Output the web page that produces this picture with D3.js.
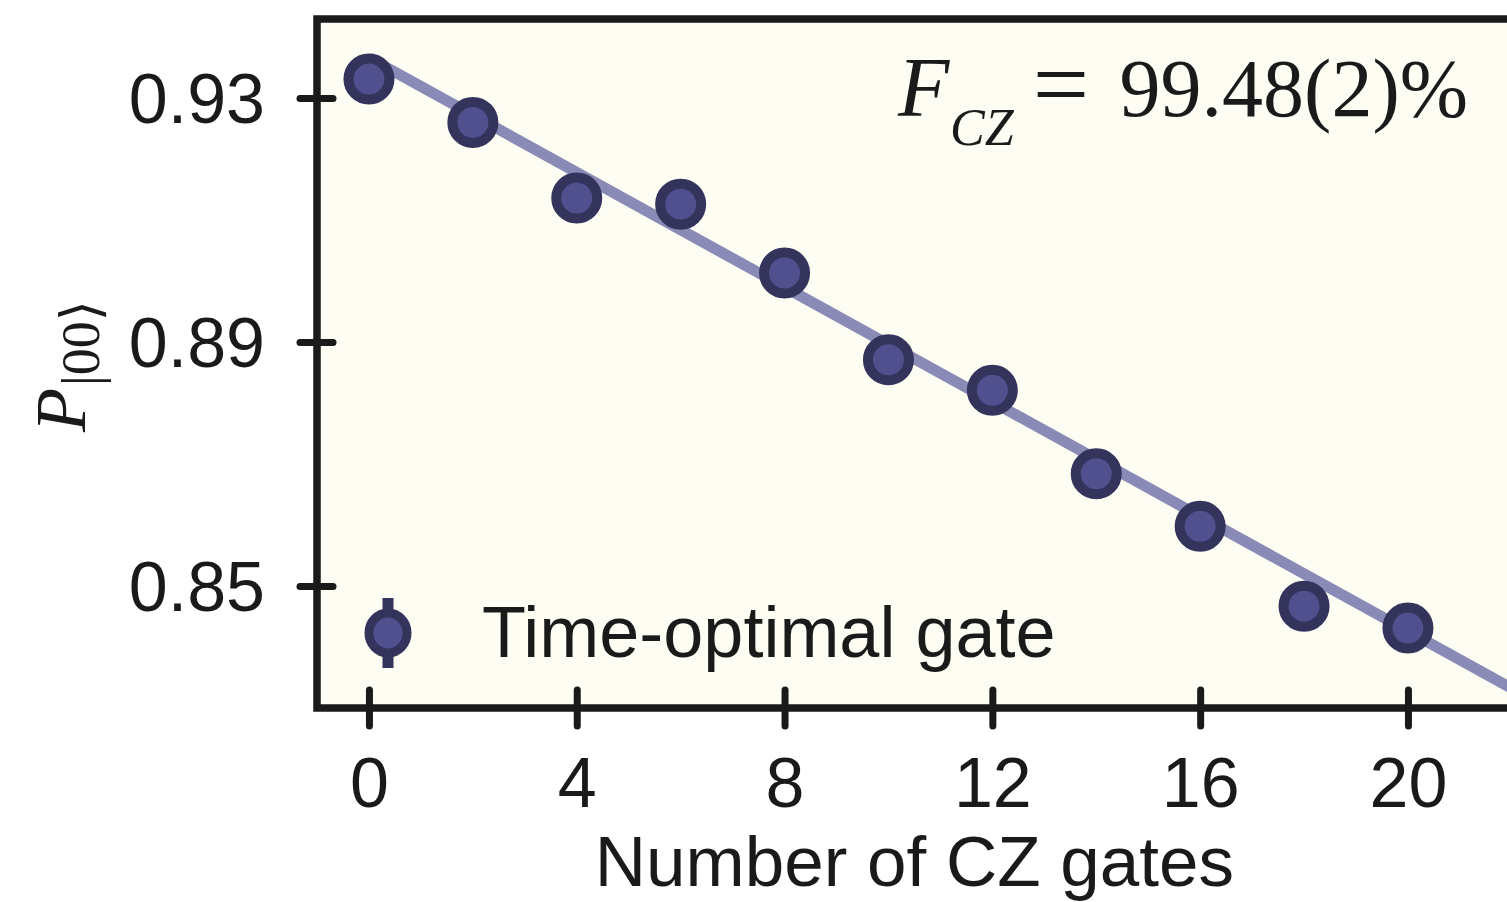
<!DOCTYPE html>
<html><head><meta charset="utf-8">
<script src="https://cdn.jsdelivr.net/npm/d3@7"></script>
<style>html,body{margin:0;padding:0;background:#fff;overflow:hidden}</style>
</head><body><svg id="c" width="1507" height="902"></svg>
<script>
// ---- data ----
const gates = [0, 2, 4, 6, 8, 10, 12, 14, 16, 18, 20];
const probs = [0.9331, 0.9260, 0.9136, 0.9126, 0.9013, 0.8871, 0.8821, 0.8684, 0.8598, 0.8467, 0.8431];
const errs  = [0.0015, 0.0015, 0.0015, 0.0015, 0.0015, 0.0015, 0.0015, 0.0015, 0.0015, 0.0015, 0.0015];
const fitGates = [0, 22];
const fitProbs = [0.9366, 0.8332];
const xTicks = [0, 4, 8, 12, 16, 20];
const yTicks = [0.85, 0.89, 0.93];
const yTickLabels = ["0.85", "0.89", "0.93"];
const legendLabel = "Time-optimal gate";
const xTitle = "Number of CZ gates";
const fidelityValue = "99.48(2)%";

// ---- layout ----
const svg = d3.select("#c");
const L = 317, T = 19, B = 708;
const x = d3.scaleLinear().domain([-1, 22]).range([L, L + 23 * 51.95]);
const R = x(22);
const y = d3.scaleLinear().domain([0.85, 0.93]).range([586, 98]);

const frameColor = "#1a1a1a";
const markerFill = "#50508f";
const markerStroke = "#33335b";
const lineColor = "#8a8ab6";

svg.append("defs").append("clipPath").attr("id", "clip")
  .append("rect").attr("x", L).attr("y", T).attr("width", R - L).attr("height", B - T);

svg.append("rect").attr("x", L).attr("y", T).attr("width", R - L).attr("height", B - T)
  .attr("fill", "#fdfdf4");

const plot = svg.append("g").attr("clip-path", "url(#clip)");

// fit line
plot.append("path")
  .datum(fitGates.map((g, i) => [g, fitProbs[i]]))
  .attr("d", d3.line().x(d => x(d[0])).y(d => y(d[1])))
  .attr("fill", "none").attr("stroke", lineColor).attr("stroke-width", 11);

// error bars
plot.selectAll("line.err").data(gates).join("line").attr("class", "err")
  .attr("x1", (g) => x(g)).attr("x2", (g) => x(g))
  .attr("y1", (g, i) => y(probs[i] - errs[i])).attr("y2", (g, i) => y(probs[i] + errs[i]))
  .attr("stroke", markerStroke).attr("stroke-width", 10);

// markers
plot.selectAll("circle.pt").data(gates).join("circle").attr("class", "pt")
  .attr("cx", g => x(g)).attr("cy", (g, i) => y(probs[i]))
  .attr("r", 20.5).attr("fill", markerFill).attr("stroke", markerStroke).attr("stroke-width", 10);

// frame
svg.append("rect").attr("x", L).attr("y", T).attr("width", R - L).attr("height", B - T)
  .attr("fill", "none").attr("stroke", frameColor).attr("stroke-width", 7.5);

// x axis
const xAxis = svg.append("g").attr("transform", `translate(0,${B})`)
  .call(d3.axisBottom(x).tickValues(xTicks).tickFormat(d3.format("d")).tickSize(18).tickPadding(0));
xAxis.select(".domain").remove();
xAxis.selectAll(".tick line").attr("y1", -18).attr("y2", 18)
  .attr("stroke", frameColor).attr("stroke-width", 7).attr("stroke-linecap", "round");
xAxis.selectAll(".tick text").attr("y", 99).attr("dy", null)
  .attr("font-family", "'Liberation Sans', Arial, sans-serif").attr("font-size", 70)
  .attr("fill", frameColor);

// y axis
const yAxis = svg.append("g").attr("transform", `translate(${L},0)`)
  .call(d3.axisLeft(y).tickValues(yTicks).tickFormat((d, i) => yTickLabels[i]).tickSize(17));
yAxis.select(".domain").remove();
yAxis.selectAll(".tick line").attr("x1", -17).attr("x2", 16)
  .attr("stroke", frameColor).attr("stroke-width", 7).attr("stroke-linecap", "round");
yAxis.selectAll(".tick text").attr("x", -52).attr("dy", "0.355em")
  .attr("font-family", "'Liberation Sans', Arial, sans-serif").attr("font-size", 70)
  .attr("fill", frameColor);

// x title
svg.append("text").attr("x", (L + R) / 2).attr("y", 886).attr("text-anchor", "middle")
  .attr("font-family", "'Liberation Sans', Arial, sans-serif").attr("font-size", 71)
  .attr("fill", frameColor).text(xTitle);

// y title: P_{|00>}
const yt = svg.append("text").attr("transform", "translate(85,432) rotate(-90)")
  .attr("font-family", "'Liberation Serif', 'DejaVu Serif', serif").attr("fill", frameColor);
yt.append("tspan").attr("font-style", "italic").attr("font-size", 72).text("P");
yt.append("tspan").attr("font-size", 54).attr("dy", 14).attr("dx", 2).text("|00\u27E9");

// fidelity annotation
const serif = "'Liberation Serif', 'DejaVu Serif', serif";
svg.append("text").attr("x", 898).attr("y", 116).attr("font-family", serif)
  .attr("font-style", "italic").attr("font-size", 84).attr("fill", frameColor).text("F");
svg.append("text").attr("x", 950).attr("y", 145).attr("font-family", serif)
  .attr("font-style", "italic").attr("font-size", 52).attr("fill", frameColor).text("CZ");
svg.append("text").attr("x", 1061).attr("y", 118).attr("text-anchor", "middle").attr("font-family", serif)
  .attr("font-size", 100).attr("fill", frameColor).text("=");
svg.append("text").attr("x", 1468).attr("y", 116).attr("text-anchor", "end").attr("font-family", serif)
  .attr("font-size", 82).attr("fill", frameColor).text(fidelityValue);

// legend
const lg = svg.append("g").attr("transform", "translate(388,633)");
lg.append("line").attr("x1", 0).attr("x2", 0).attr("y1", -35).attr("y2", 35)
  .attr("stroke", markerStroke).attr("stroke-width", 11);
lg.append("ellipse").attr("rx", 19).attr("ry", 20).attr("fill", markerFill)
  .attr("stroke", markerStroke).attr("stroke-width", 9);
svg.append("text").attr("x", 482).attr("y", 657)
  .attr("font-family", "'Liberation Sans', Arial, sans-serif").attr("font-size", 72)
  .attr("fill", frameColor).text(legendLabel);
</script>
</body></html>
